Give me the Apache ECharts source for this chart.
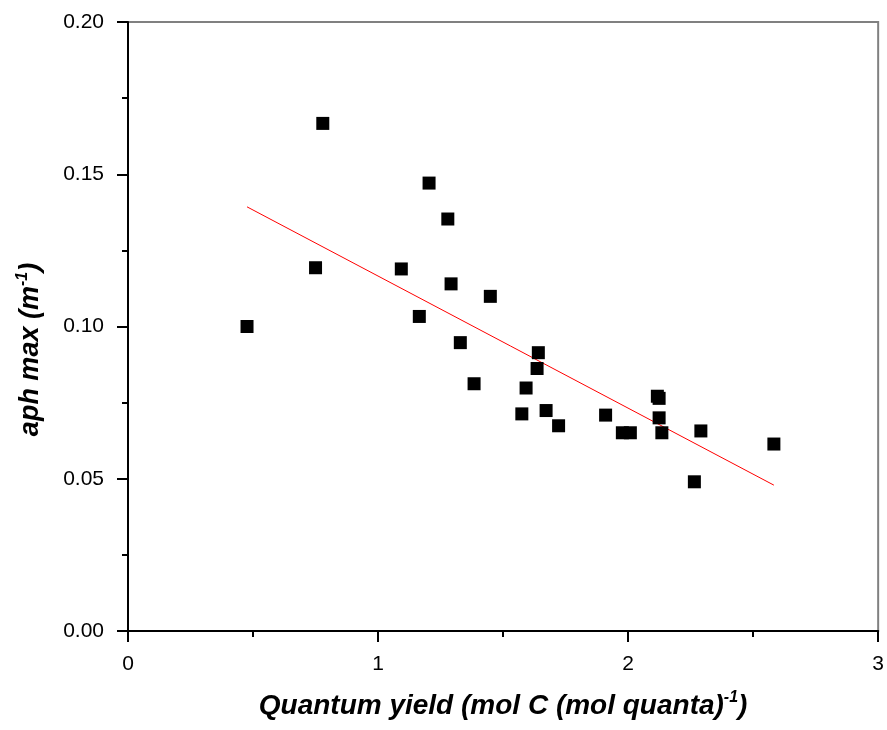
<!DOCTYPE html>
<html>
<head>
<meta charset="utf-8">
<script src="https://cdn.jsdelivr.net/npm/echarts@6/dist/echarts.min.js"></script>
<style>
  html, body { margin: 0; padding: 0; background: #fff; }
  #chart { width: 887px; height: 730px; }
</style>
</head>
<body>
<div id="chart"></div>
<script>
// Quantum yield (x) versus maximum phytoplankton absorption (y)
const quantumYield = [0.476, 0.779, 0.750, 1.204, 1.279, 1.093, 1.292, 1.449, 1.165, 1.329,
  1.641, 1.636, 1.384, 1.592, 1.575, 1.672, 1.722, 1.910, 1.977, 2.009,
  2.117, 2.124, 2.124, 2.135, 2.291, 2.265, 2.583];
const aphMax = [0.1000, 0.1667, 0.1193, 0.1471, 0.1353, 0.1189, 0.1140, 0.1099, 0.1033, 0.0947,
  0.0914, 0.0862, 0.0812, 0.0798, 0.0713, 0.0724, 0.0674, 0.0709, 0.0651, 0.0651,
  0.0771, 0.0764, 0.0700, 0.0651, 0.0657, 0.0490, 0.0614];

// Linear fit, drawn between its two end points
const fitX = [0.476, 2.583];
const fitY = [0.1393, 0.0479];

const xTicks = [0, 1, 2, 3];
const yTicks = [0.00, 0.05, 0.10, 0.15, 0.20];

const points = quantumYield.map((x, i) => [x, aphMax[i]]);
const fitLine = fitX.map((x, i) => [x, fitY[i]]);

const chart = echarts.init(document.getElementById('chart'), null, { renderer: 'canvas' });

const FONT = 'Liberation Sans, Arial, sans-serif';
const tickFont = { fontFamily: FONT, fontSize: 21, color: '#000' };
const titleRich = {
  t: { fontFamily: FONT, fontSize: 27, fontWeight: 'bold', fontStyle: 'italic', color: '#000', lineHeight: 34 },
  s: { fontFamily: FONT, fontSize: 16, fontWeight: 'bold', fontStyle: 'italic', color: '#000', padding: [0, 0, 16, 0] }
};
const xTitleRich = {
  t: Object.assign({}, titleRich.t, { fontSize: 28 }),
  s: titleRich.s
};

chart.setOption({
  animation: false,
  backgroundColor: '#fff',
  grid: {
    left: 128, right: 6, top: 22, bottom: 99,
    show: true, borderColor: '#808080', borderWidth: 2
  },
  xAxis: {
    type: 'value',
    min: xTicks[0], max: xTicks[xTicks.length - 1], interval: 1,
    name: '{t|Quantum yield (mol C (mol quanta)}{s|-1}{t|)}',
    nameLocation: 'middle',
    nameGap: 58,
    nameTextStyle: { rich: xTitleRich },
    axisLine: { show: true, onZero: false, lineStyle: { color: '#000', width: 2 } },
    axisTick: { show: true, inside: false, length: 11, lineStyle: { color: '#000', width: 2 } },
    minorTick: { show: true, splitNumber: 2, length: 6, lineStyle: { color: '#000', width: 2 } },
    splitLine: { show: false },
    axisLabel: Object.assign({ margin: 23 }, tickFont, {
      formatter: v => xTicks.includes(v) ? String(v) : ''
    })
  },
  yAxis: {
    type: 'value',
    min: yTicks[0], max: yTicks[yTicks.length - 1], interval: 0.05,
    name: '{t|aph max (m}{s|-1}{t|)}',
    nameLocation: 'middle',
    nameGap: 80,
    nameTextStyle: { rich: titleRich, padding: [0, 46, 0, 0] },
    axisLine: { show: true, onZero: false, lineStyle: { color: '#000', width: 2 } },
    axisTick: { show: true, inside: false, length: 11, lineStyle: { color: '#000', width: 2 } },
    minorTick: { show: true, splitNumber: 2, length: 6, lineStyle: { color: '#000', width: 2 } },
    splitLine: { show: false },
    axisLabel: Object.assign({ margin: 24 }, tickFont, {
      formatter: v => v.toFixed(2)
    })
  },
  series: [
    {
      type: 'scatter',
      data: points,
      symbol: 'rect',
      symbolSize: 13,
      itemStyle: { color: '#000', opacity: 1 },
      z: 3
    },
    {
      type: 'line',
      data: fitLine,
      symbol: 'none',
      lineStyle: { color: '#ff0000', width: 1 },
      z: 2
    }
  ]
});
</script>
</body>
</html>
